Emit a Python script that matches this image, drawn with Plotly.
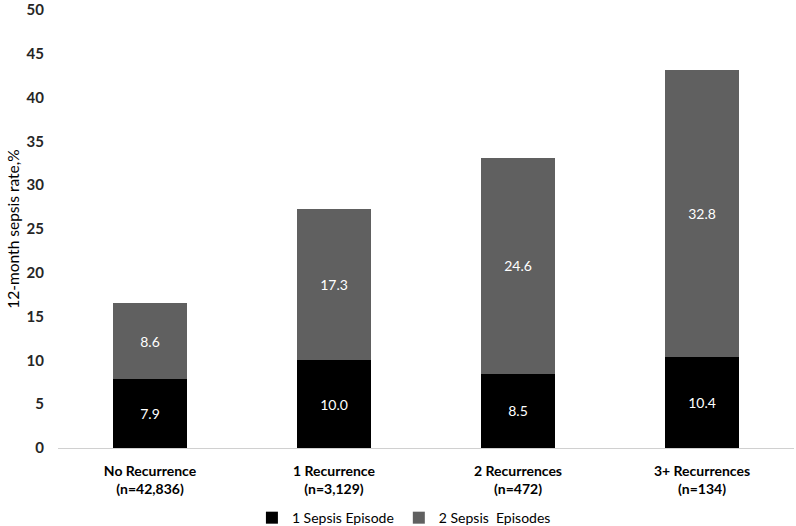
import plotly.graph_objects as go

categories = ["No Recurrence<br>(n=42,836)", "1 Recurrence<br>(n=3,129)",
              "2 Recurrences<br>(n=472)", "3+ Recurrences<br>(n=134)"]
one_episode = [7.9, 10.0, 8.5, 10.4]
two_episodes = [8.6, 17.3, 24.6, 32.8]
series_names = ["1 Sepsis Episode", "2 Sepsis\u00a0 Episodes"]
y_ticks = [0, 5, 10, 15, 20, 25, 30, 35, 40, 45, 50]

FONT = "Lato, Open Sans, sans-serif"

fig = go.Figure()
fig.add_trace(go.Bar(
    x=categories, y=one_episode, name=series_names[0],
    marker=dict(color="#000000", line=dict(width=0)),
    text=[f"{v:.1f}" for v in one_episode], textposition="inside",
    insidetextanchor="middle", textfont=dict(color="white", size=14, family=FONT),
))
fig.add_trace(go.Bar(
    x=categories, y=two_episodes, name=series_names[1],
    marker=dict(color="#606060", line=dict(width=0)),
    text=[f"{v:.1f}" for v in two_episodes], textposition="inside",
    insidetextanchor="middle", textfont=dict(color="white", size=14, family=FONT),
))

fig.update_layout(
    barmode="stack",
    bargap=0.6,
    width=796, height=526,
    margin=dict(l=58, r=2, t=10, b=78, autoexpand=False),
    plot_bgcolor="white", paper_bgcolor="white",
    font=dict(family=FONT, size=14, color="#000000"),
    legend=dict(orientation="h", x=0.47, xanchor="center", y=-0.16, yanchor="middle",
                font=dict(size=14, color="#000000"), traceorder="normal",
                itemwidth=30, bgcolor="rgba(0,0,0,0)"),
    xaxis=dict(showgrid=False, showline=True, linecolor="#d0d0d0", linewidth=1,
               ticks="", ticklabelstandoff=10,
               tickfont=dict(size=14, color="#000000", weight="bold"), fixedrange=True),
    yaxis=dict(range=[0, 50], tickvals=y_ticks, showgrid=False, showline=False,
               zeroline=False, ticks="", ticklabelstandoff=13, ticklabeloverflow="allow",
               tickfont=dict(size=15, color="#262626", weight="bold"),
               title=dict(text="12-month sepsis rate,%", font=dict(size=15.5, color="#000000"),
                          standoff=3)),
)

fig.write_html("out.html", config={"displayModeBar": False},
               post_script="document.body.style.margin='0';document.body.style.padding='0';")
